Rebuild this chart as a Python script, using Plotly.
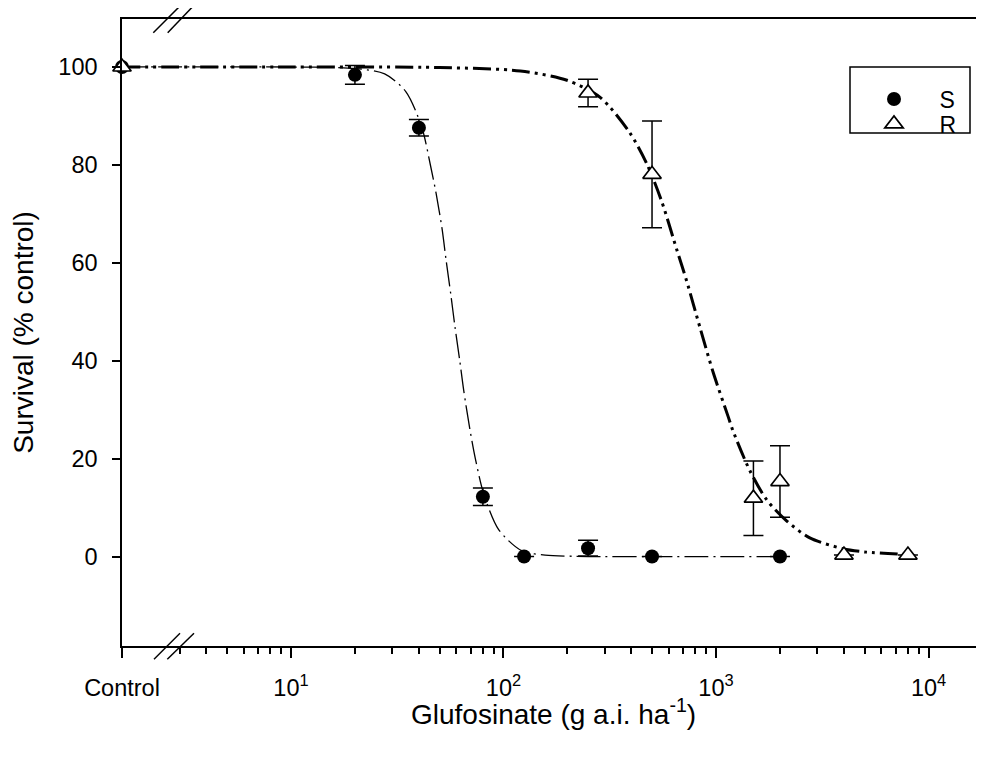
import plotly.graph_objects as go

# ---- axis layout constants (log10 units) ----
X_LOG_MIN = 0.205
X_LOG_MAX = 4.261
Y_MIN, Y_MAX = -18.16, 109.8
CONTROL = 10 ** X_LOG_MIN  # control plotted at left edge of the broken axis

# ---- observed data ----
s_dose = [CONTROL, 20, 40, 80, 125, 250, 500, 2000]
s_surv = [100, 98.4, 87.6, 12.3, 0.1, 1.8, 0.1, 0.1]
s_err = [0, 1.9, 1.7, 1.8, 0, 1.6, 0, 0]

r_dose = [CONTROL, 250, 500, 1500, 2000, 4000, 8000]
r_surv = [100, 94.7, 78.1, 12.0, 15.4, 0.4, 0.4]
r_err = [0, 2.8, 10.9, 7.6, 7.3, 0, 0]

# ---- fitted curves ----
s_fit_dose = [CONTROL, 10, 20, 27.6, 34.7, 41.2, 45.4, 48.2, 51.4, 53.7, 56.5, 59.2,
              62.3, 65.0, 69.4, 73.8, 80.7, 94.9, 121.6, 157, 250, 500, 2000]
s_fit_surv = [100, 100, 99.7, 98.6, 95.0, 87.8, 79.8, 74.2, 67.0, 60.6, 53.6, 46.8,
              40.0, 34.0, 26.2, 20.0, 12.9, 5.6, 1.3, 0.4, 0.1, 0.1, 0.1]

r_fit_dose = [CONTROL, 10, 50, 120, 199, 285, 394, 472, 556, 654, 728, 841, 971,
              1142, 1206, 1444, 1730, 2148, 2763, 3960, 5100, 8000]
r_fit_surv = [100, 100, 99.9, 99.2, 97.3, 93.8, 86.5, 80.3, 72.5, 62.7, 56.3, 46.8,
              37.6, 28.6, 25.6, 17.6, 11.7, 7.4, 3.9, 1.7, 1.0, 0.5]

# ---- tick labels ----
x_tickvals = [CONTROL, 10, 100, 1000, 10000]
x_ticktext = ["Control", "10<sup>1</sup>", "10<sup>2</sup>", "10<sup>3</sup>", "10<sup>4</sup>"]
x_minorvals = [3, 4, 5, 6, 7, 8, 9,
               20, 30, 40, 50, 60, 70, 80, 90,
               200, 300, 400, 500, 600, 700, 800, 900,
               2000, 3000, 4000, 5000, 6000, 7000, 8000, 9000]
y_tickvals = [0, 20, 40, 60, 80, 100]
x_title = "Glufosinate (g a.i. ha<sup>-1</sup>)"
y_title = "Survival (% control)"

FONT = "Liberation Sans, Arial, sans-serif"
OFF = 8  # page body margin of the html page
W, H = 984 - OFF, 767 - OFF
ML, MR, MT, MB = 122 - OFF, 0, 19 - OFF, 121
PW, PH = W - ML - MR, H - MT - MB


def px_x(px):
    """page pixel -> paper fraction"""
    return (px - OFF - ML) / PW


def px_y(py):
    return 1 - (py - OFF - MT) / PH


fig = go.Figure()

fig.add_trace(go.Scatter(
    x=s_fit_dose, y=s_fit_surv, mode="lines", showlegend=False, hoverinfo="skip",
    line=dict(color="black", width=1.3, dash="24px,5px,2px,5px", shape="spline", smoothing=0.8),
    cliponaxis=False))
fig.add_trace(go.Scatter(
    x=r_fit_dose, y=r_fit_surv, mode="lines", showlegend=False, hoverinfo="skip",
    line=dict(color="black", width=3, dash="18px,5px,3px,5px,3px,5px", shape="spline", smoothing=0.8),
    cliponaxis=False))

NB = "\u00a0"
fig.add_trace(go.Scatter(
    x=s_dose, y=s_surv, mode="markers", name=NB * 4 + "S", legend="legend",
    marker=dict(symbol="circle", size=14, color="black"),
    error_y=dict(type="data", array=s_err, color="black", thickness=1.5, width=10),
    cliponaxis=False))
fig.add_trace(go.Scatter(
    x=r_dose, y=r_surv, mode="markers", name=NB * 4 + "R", legend="legend2",
    marker=dict(symbol="triangle-up", size=16, color="white", line=dict(color="black", width=1.7)),
    error_y=dict(type="data", array=r_err, color="black", thickness=1.5, width=10),
    cliponaxis=False))

shapes = []
# legend frame
shapes.append(dict(type="rect", xref="paper", yref="paper",
                   x0=px_x(850), x1=px_x(970), y0=px_y(133), y1=px_y(67),
                   line=dict(color="black", width=1.5), fillcolor="rgba(0,0,0,0)"))
# axis break marks
for (ax0, ay0, ax1, ay1) in [(153.3, 32.7, 180, 6), (167.7, 32.7, 193.3, 6),
                             (154, 659.3, 180, 633.3), (167.3, 659.3, 194, 633.3)]:
    shapes.append(dict(type="line", xref="paper", yref="paper",
                       x0=px_x(ax0), y0=px_y(ay0), x1=px_x(ax1), y1=px_y(ay1),
                       line=dict(color="black", width=1.5)))

leg_common = dict(x=px_x(874), xanchor="left", yanchor="middle", bgcolor="rgba(0,0,0,0)",
                  borderwidth=0, font=dict(family=FONT, size=23, color="black"))

fig.update_layout(
    width=W, height=H,
    margin=dict(l=ML, r=MR, t=MT, b=MB, pad=0),
    paper_bgcolor="white", plot_bgcolor="white",
    font=dict(family=FONT, size=22, color="black"),
    shapes=shapes,
    legend=dict(y=px_y(99), **leg_common),
    legend2=dict(y=px_y(124), **leg_common),
    annotations=[dict(text=x_title, xref="paper", yref="paper", x=0.5, y=px_y(712),
                      xanchor="center", yanchor="middle", showarrow=False,
                      font=dict(family=FONT, size=28, color="black"))],
    xaxis=dict(
        type="log", range=[X_LOG_MIN, X_LOG_MAX],
        tickmode="array", tickvals=x_tickvals, ticktext=x_ticktext,
        ticks="outside", ticklen=10, tickwidth=1.5, tickcolor="black",
        minor=dict(tickmode="array", tickvals=x_minorvals, ticks="outside",
                   ticklen=6, tickwidth=1.5, tickcolor="black", showgrid=False),
        showline=True, linecolor="black", linewidth=1.5, mirror=True,
        showgrid=False, zeroline=False, ticklabelstandoff=10,
        tickfont=dict(family=FONT, size=23.5, color="black"),
    ),
    yaxis=dict(
        range=[Y_MIN, Y_MAX], tickmode="array", tickvals=y_tickvals,
        ticks="outside", ticklen=8, tickwidth=1.5, tickcolor="black",
        showline=True, linecolor="black", linewidth=1.5, mirror=False,
        showgrid=False, zeroline=False, ticklabelstandoff=10,
        tickfont=dict(family=FONT, size=23.5, color="black"),
        title=dict(text=y_title, standoff=24,
                   font=dict(family=FONT, size=28, color="black")),
    ),
)

fig.write_html("out.html")
